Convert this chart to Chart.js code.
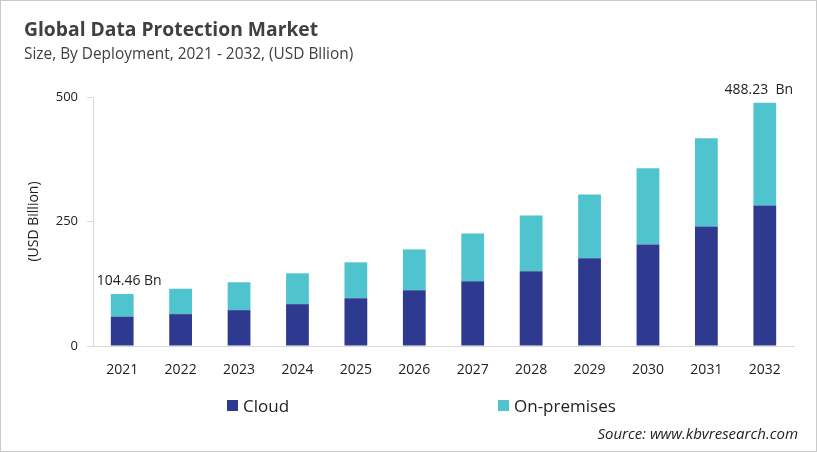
<!DOCTYPE html>
<html>
<head>
<meta charset="utf-8">
<script src="https://cdn.jsdelivr.net/npm/chart.js@4.4.1/dist/chart.umd.min.js"></script>
<style>
  html,body{margin:0;padding:0;background:#fff;}
  #wrap{position:relative;width:817px;height:452px;box-sizing:border-box;border:1px solid #c9c9c9;overflow:hidden;font-family:"Open Sans",sans-serif;}
  #c{position:absolute;left:0;top:0;}
  .t{position:absolute;color:#404040;white-space:nowrap;}
  #title{left:23px;top:14px;font-size:19.3px;font-weight:bold;}
  #sub{left:23px;top:42px;font-size:15.4px;}
  #src{right:18px;top:422px;font-size:15px;font-style:italic;color:#222;}
  .lg{position:absolute;top:393px;font-size:17px;color:#222;display:flex;align-items:center;}
  .lg span.sw{display:inline-block;width:11px;height:11px;margin-right:5px;}
</style>
</head>
<body>
<div id="wrap">
  <canvas id="c" width="817" height="452"></canvas>
  <div class="t" id="title">Global Data Protection Market</div>
  <div class="t" id="sub">Size, By Deployment, 2021 - 2032, (USD Bllion)</div>
  <div id="legend"></div>
  <div class="t" id="src">Source: www.kbvresearch.com</div>
</div>
<script>
const years = ["2021","2022","2023","2024","2025","2026","2027","2028","2029","2030","2031","2032"];
const cloud = [59, 64, 72, 84, 96, 112, 130, 150, 176, 204, 240, 282];
const onPremises = [45.46, 51, 56, 62, 72, 82, 96, 112, 128, 153, 177, 206.23];
const yTicks = [0, 250, 500];
const seriesNames = ["Cloud", "On-premises"];
const seriesColors = ["#2E3A8F", "#4FC4CF"];
const endLabels = {0: "104.46 Bn", 11: "488.23  Bn"};

const labelPlugin = {
  id: 'endLabels',
  afterDatasetsDraw(chart) {
    const ctx = chart.ctx;
    const meta = chart.getDatasetMeta(1);
    ctx.save();
    ctx.font = '14px "Open Sans", sans-serif';
    ctx.fillStyle = '#222';
    ctx.textAlign = 'center';
    ctx.textBaseline = 'bottom';
    Object.keys(endLabels).forEach(k => {
      const el = meta.data[+k];
      const dx = (+k === 0) ? 7 : -6;
      ctx.fillText(endLabels[k], el.x + dx, el.y - 6);
    });
    ctx.restore();
  }
};

const chart = new Chart(document.getElementById('c'), {
  type: 'bar',
  data: {
    labels: years,
    datasets: [
      {label: seriesNames[0], data: cloud, backgroundColor: seriesColors[0]},
      {label: seriesNames[1], data: onPremises, backgroundColor: seriesColors[1]}
    ]
  },
  options: {
    responsive: false,
    animation: false,
    devicePixelRatio: 1,
    layout: {padding: {top: 96, right: 24, bottom: 72, left: 0}},
    plugins: {legend: {display: false}, tooltip: {enabled: false}},
    datasets: {bar: {categoryPercentage: 1, barPercentage: 0.39}},
    scales: {
      x: {
        stacked: true,
        grid: {display: false},
        border: {display: true, color: '#d9d9d9'},
        ticks: {color: '#222', font: {family: '"Open Sans", sans-serif', size: 14}, padding: 8},
        afterFit: s => { s.height = 35; }
      },
      y: {
        stacked: true,
        min: 0, max: 500,
        afterBuildTicks: s => { s.ticks = yTicks.map(v => ({value: v})); },
        grid: {drawOnChartArea: false, tickLength: 6, color: '#d9d9d9'},
        border: {display: true, color: '#d9d9d9'},
        ticks: {color: '#222', font: {family: '"Open Sans", sans-serif', size: 13}, padding: 9},
        title: {display: true, text: '(USD Billion)', color: '#222', font: {family: '"Open Sans", sans-serif', size: 14}, padding: {top: 25, bottom: 0}},
        afterFit: s => { s.width = 92; }
      }
    }
  },
  plugins: [labelPlugin]
});

const lg = document.getElementById('legend');
const lgPos = [226, 497];
chart.data.datasets.forEach((d, i) => {
  const div = document.createElement('div');
  div.className = 'lg';
  div.style.left = lgPos[i] + 'px';
  div.innerHTML = '<span class="sw" style="background:' + d.backgroundColor + '"></span>' + d.label;
  lg.appendChild(div);
});
</script>
</body>
</html>
